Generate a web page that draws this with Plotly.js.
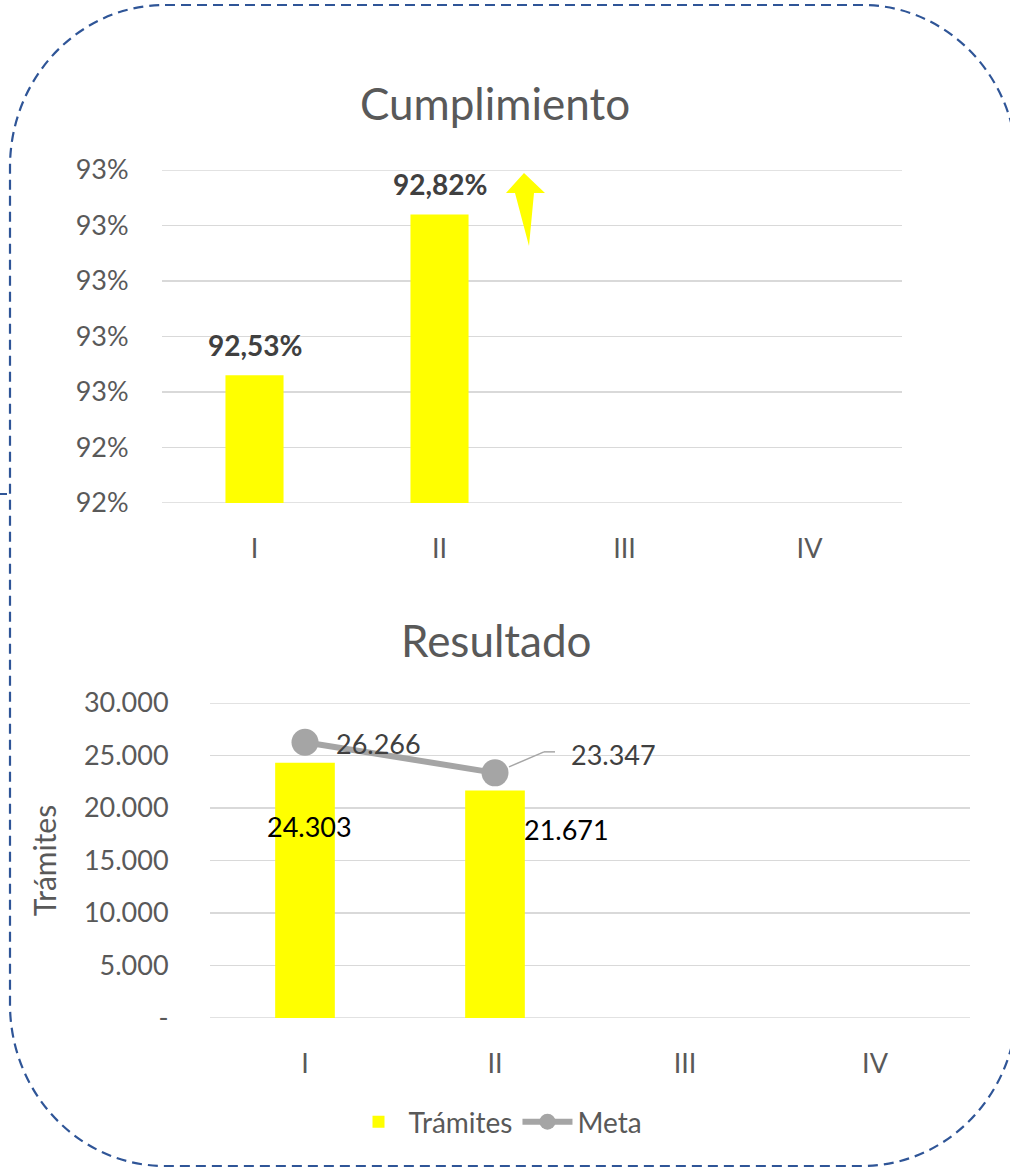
<!DOCTYPE html>
<html>
<head>
<meta charset="utf-8">
<script src="https://cdn.plot.ly/plotly-3.0.1.min.js"></script>
<style>
  html, body { margin: 0; padding: 0; background: #ffffff; }
  #chart { width: 1010px; height: 1168px; }
</style>
</head>
<body>
<div id="chart"></div>
<script>
// ---------- data ----------
const quarters = ['I', 'II', 'III', 'IV'];
const cumplimiento = [92.53, 92.82, null, null];          // %
const cumplTickVals = [92.3, 92.4, 92.5, 92.6, 92.7, 92.8, 92.9];
const cumplTickText = ['92%', '92%', '93%', '93%', '93%', '93%', '93%'];
const tramites = [24303, 21671, null, null];
const meta = [26266, 23347, null, null];
const resTickVals = [0, 5000, 10000, 15000, 20000, 25000, 30000];
const resTickText = ['-', '5.000', '10.000', '15.000', '20.000', '25.000', '30.000'];

// ---------- helpers ----------
const W = 1010, H = 1168;
const px = v => v / W;
const py = v => 1 - v / H;
const FONT = 'Lato, "Open Sans", sans-serif';
const fmtPct = v => v.toFixed(2).replace('.', ',') + '%';
const fmtThou = v => v.toLocaleString('de-DE');

// rounded dashed frame (pixel geometry -> paper)
function framePath(L, T, R, B, rx, ry) {
  const k = 0.5523;
  const P = (x, y) => px(x).toFixed(5) + ',' + py(y).toFixed(5);
  return 'M' + P(L + rx, T) +
    ' L' + P(R - rx, T) +
    ' C' + P(R - rx + k * rx, T) + ' ' + P(R, T + ry - k * ry) + ' ' + P(R, T + ry) +
    ' L' + P(R, B - ry) +
    ' C' + P(R, B - ry + k * ry) + ' ' + P(R - rx + k * rx, B) + ' ' + P(R - rx, B) +
    ' L' + P(L + rx, B) +
    ' C' + P(L + rx - k * rx, B) + ' ' + P(L, B - ry + k * ry) + ' ' + P(L, B - ry) +
    ' L' + P(L, T + ry) +
    ' C' + P(L, T + ry - k * ry) + ' ' + P(L + rx - k * rx, T) + ' ' + P(L + rx, T) + ' Z';
}
function polyPath(pts) {
  return 'M' + pts.map(p => px(p[0]).toFixed(5) + ',' + py(p[1]).toFixed(5)).join(' L') + ' Z';
}

// ---------- traces ----------
const traces = [
  {
    type: 'bar', x: quarters, y: cumplimiento, xaxis: 'x', yaxis: 'y',
    marker: { color: '#FFFF00' }, showlegend: false, hoverinfo: 'skip'
  },
  {
    type: 'bar', x: quarters, y: tramites, xaxis: 'x2', yaxis: 'y2', name: 'Trámites',
    marker: { color: '#FFFF00' }, hoverinfo: 'skip'
  },
  {
    type: 'scatter', mode: 'lines+markers', x: quarters, y: meta, xaxis: 'x2', yaxis: 'y2', name: 'Meta',
    line: { color: '#A5A5A5', width: 6 }, marker: { color: '#A5A5A5', size: 27 },
    hoverinfo: 'skip', cliponaxis: false
  }
];

// ---------- annotations ----------
const annotations = [];
cumplimiento.forEach((v, i) => {
  if (v == null) return;
  annotations.push({
    xref: 'x', yref: 'y', x: quarters[i], y: v, text: '<b>' + fmtPct(v) + '</b>',
    showarrow: false, yanchor: 'middle', yshift: 30,
    font: { family: FONT, size: 28, color: '#404040' }
  });
});
const tramShift = [[4, -64], [71, -39]];
tramites.forEach((v, i) => {
  if (v == null) return;
  annotations.push({
    xref: 'x2', yref: 'y2', x: quarters[i], y: v, text: fmtThou(v),
    showarrow: false, yanchor: 'middle', xshift: tramShift[i][0], yshift: tramShift[i][1],
    font: { family: FONT, size: 27, color: '#000000' }
  });
});
const metaShift = [[73, -1], [118, 18]];
meta.forEach((v, i) => {
  if (v == null) return;
  annotations.push({
    xref: 'x2', yref: 'y2', x: quarters[i], y: v, text: fmtThou(v),
    showarrow: false, yanchor: 'middle', xshift: metaShift[i][0], yshift: metaShift[i][1],
    font: { family: FONT, size: 27, color: '#404040' }
  });
});
annotations.push({
  xref: 'paper', yref: 'paper', x: px(496), y: py(640), text: 'Resultado',
  showarrow: false, xanchor: 'center', yanchor: 'middle',
  font: { family: FONT, size: 44, color: '#595959' }
});

// ---------- shapes ----------
const GRID = '#D9D9D9';
const edgeGrid = (yref, xref, vals) => [vals[0], vals[vals.length - 1]].map(v => ({
  type: 'line', xref: xref + ' domain', yref: yref, x0: 0, x1: 1, y0: v, y1: v,
  line: { color: GRID, width: 1.5 }, layer: 'below'
}));
const shapes = [
  { type: 'path', xref: 'paper', yref: 'paper', path: framePath(10, 5, 1017, 1166, 155, 162),
    line: { color: '#2F5597', width: 2.2, dash: '10px,6px' }, fillcolor: 'rgba(0,0,0,0)', layer: 'below' },
  { type: 'line', xref: 'paper', yref: 'paper', x0: px(0), x1: px(7), y0: py(494), y1: py(494),
    line: { color: '#2F5597', width: 2 } },
  ...edgeGrid('y', 'x', cumplTickVals),
  ...edgeGrid('y2', 'x2', resTickVals),
  // yellow arrow next to the II bar
  { type: 'path', xref: 'paper', yref: 'paper',
    path: polyPath([[524, 173], [545, 193], [534, 193], [529, 246], [515, 193], [506, 193]]),
    fillcolor: '#FFFF00', line: { width: 0 } },
  // leader line for the second "Meta" label
  { type: 'line', xref: 'x2', yref: 'y2', xsizemode: 'pixel', ysizemode: 'pixel',
    xanchor: quarters[1], yanchor: meta[1], x0: 14, y0: 6, x1: 49, y1: 21,
    line: { color: '#A6A6A6', width: 1.5 } },
  { type: 'line', xref: 'x2', yref: 'y2', xsizemode: 'pixel', ysizemode: 'pixel',
    xanchor: quarters[1], yanchor: meta[1], x0: 49, y0: 21, x1: 60, y1: 21,
    line: { color: '#A6A6A6', width: 1.5 } }
];

// ---------- layout ----------
const tickFont = { family: FONT, size: 27, color: '#595959' };
const layout = {
  width: W, height: H,
  margin: { l: 0, r: 0, t: 0, b: 0 },
  paper_bgcolor: '#ffffff', plot_bgcolor: '#ffffff',
  font: { family: FONT, color: '#595959' },
  title: {
    text: 'Cumplimiento', x: px(495), xref: 'paper', xanchor: 'center',
    y: py(105), yref: 'paper', yanchor: 'middle',
    font: { family: FONT, size: 44, color: '#595959' }
  },
  bargap: 0.686,
  xaxis: {
    domain: [px(162), px(902)], anchor: 'y', type: 'category', categoryarray: quarters,
    showgrid: false, showline: false, zeroline: false,
    ticks: 'outside', ticklen: 22, tickcolor: 'rgba(0,0,0,0)', tickfont: tickFont, fixedrange: true
  },
  yaxis: {
    domain: [py(503), py(170)], anchor: 'x', range: [92.3, 92.9],
    tickvals: cumplTickVals, ticktext: cumplTickText,
    showgrid: true, gridcolor: GRID, gridwidth: 1.5, zeroline: false, showline: false,
    ticks: 'outside', ticklen: 27, tickcolor: 'rgba(0,0,0,0)', tickfont: tickFont, fixedrange: true
  },
  xaxis2: {
    domain: [px(210), px(970)], anchor: 'y2', type: 'category', categoryarray: quarters,
    showgrid: false, showline: false, zeroline: false,
    ticks: 'outside', ticklen: 22, tickcolor: 'rgba(0,0,0,0)', tickfont: tickFont, fixedrange: true
  },
  yaxis2: {
    domain: [py(1018), py(703)], anchor: 'x2', range: [0, 30000],
    tickvals: resTickVals, ticktext: resTickText,
    showgrid: true, gridcolor: GRID, gridwidth: 1.5, zeroline: false, showline: false,
    ticks: 'outside', ticklen: 35, tickcolor: 'rgba(0,0,0,0)', tickfont: tickFont, fixedrange: true,
    title: { text: 'Trámites', standoff: 18, font: { family: FONT, size: 30, color: '#595959' } }
  },
  showlegend: true,
  legend: {
    orientation: 'h', x: px(498), xanchor: 'center', y: py(1122), yanchor: 'middle',
    font: { family: FONT, size: 28, color: '#595959' }, itemwidth: 50, bgcolor: 'rgba(0,0,0,0)'
  },
  annotations: annotations,
  shapes: shapes
};

Plotly.newPlot('chart', traces, layout, { displayModeBar: false, staticPlot: true });
</script>
</body>
</html>
